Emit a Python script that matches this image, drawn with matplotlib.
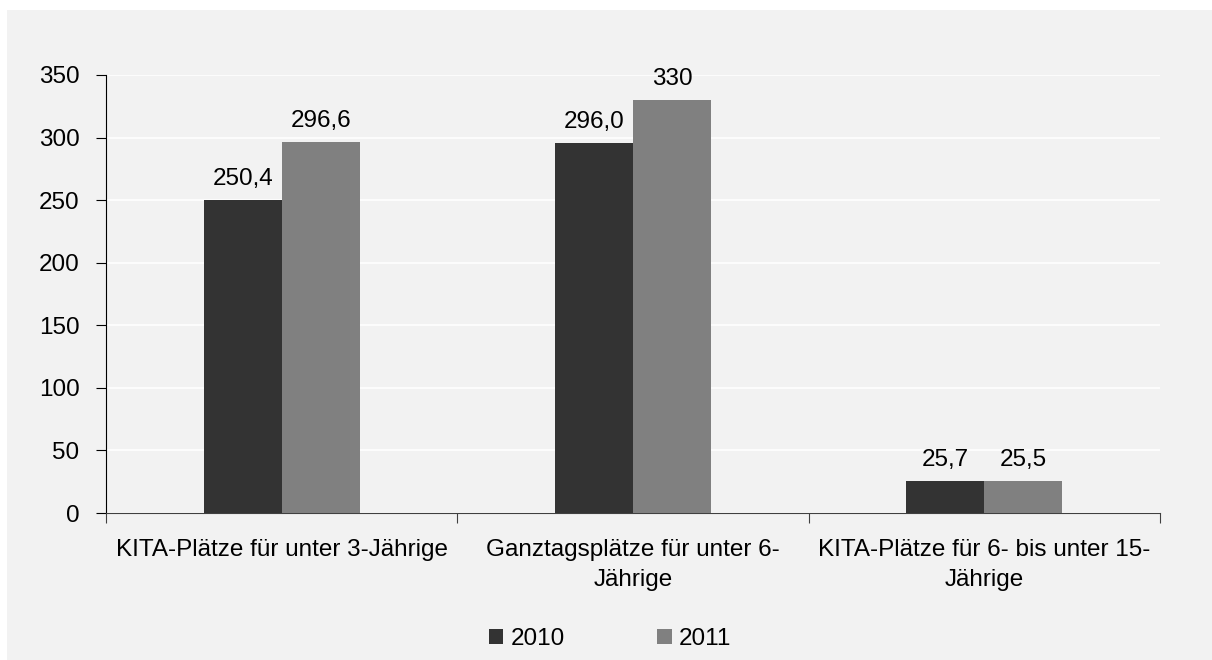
import numpy as np
import matplotlib.pyplot as plt
from matplotlib.patches import Rectangle

categories = ["KITA-Plätze für unter 3-Jährige",
              "Ganztagsplätze für unter 6-\nJährige",
              "KITA-Plätze für 6- bis unter 15-\nJährige"]
values_2010 = [250.4, 296.0, 25.7]
values_2011 = [296.6, 330.0, 25.5]
labels_2010 = ["250,4", "296,0", "25,7"]
labels_2011 = ["296,6", "330", "25,5"]
yticks = [0, 50, 100, 150, 200, 250, 300, 350]

plt.rcParams['font.family'] = ['Liberation Sans', 'DejaVu Sans']
fs = 17.5

fig = plt.figure(figsize=(12.12, 6.6), dpi=100)
fig.patch.set_facecolor("white")
# grey chart area
fig.patches.append(Rectangle((7/1212, 0), 1 - 7/1212, 1 - 10/660,
                             transform=fig.transFigure, facecolor="#f2f2f2",
                             edgecolor="none", zorder=-10))

ax = fig.add_axes([106/1212, 1 - 513/660, (1160 - 106)/1212, (513 - 75)/660])
ax.set_facecolor("#f2f2f2")

x = np.arange(len(categories))
w = 0.222
b1 = ax.bar(x - w/2, values_2010, w, color="#333333", label="2010", zorder=3)
b2 = ax.bar(x + w/2, values_2011, w, color="#808080", label="2011", zorder=3)

for bars, labs in [(b1, labels_2010), (b2, labels_2011)]:
    for rect, lab in zip(bars, labs):
        ax.annotate(lab, (rect.get_x() + rect.get_width()/2, rect.get_height()),
                    xytext=(0, 7), textcoords="offset points",
                    ha="center", va="bottom", fontsize=fs, color="black")

ax.set_xlim(-0.5, len(categories) - 0.5)
ax.set_ylim(0, 350)
ax.set_yticks(yticks)
ax.yaxis.grid(True, color="white", linewidth=1.2, zorder=0)
ax.set_axisbelow(True)

ax.set_xticks(np.arange(len(categories) + 1) - 0.5)
ax.set_xticklabels([])
ax.set_xticks(x, minor=True)
ax.set_xticklabels(categories, minor=True, fontsize=fs, linespacing=1.45)
ax.tick_params(axis="x", which="minor", length=0, pad=19)
ax.tick_params(axis="x", which="major", length=7, color="#404040", direction="out")
ax.tick_params(axis="y", length=7, labelsize=fs, pad=12, color="black")

for s in ["top", "right"]:
    ax.spines[s].set_visible(False)
ax.spines["left"].set_color("black")
ax.spines["bottom"].set_color("#404040")

fig.legend(handles=[b1, b2], labels=["2010", "2011"], loc="center",
           bbox_to_anchor=(610/1212, 1 - 639/660), ncol=2, frameon=False,
           fontsize=fs, handlelength=0.6, handleheight=0.6, handletextpad=0.3,
           columnspacing=3.8)

fig.savefig("out.png", dpi=100, facecolor=fig.get_facecolor())
